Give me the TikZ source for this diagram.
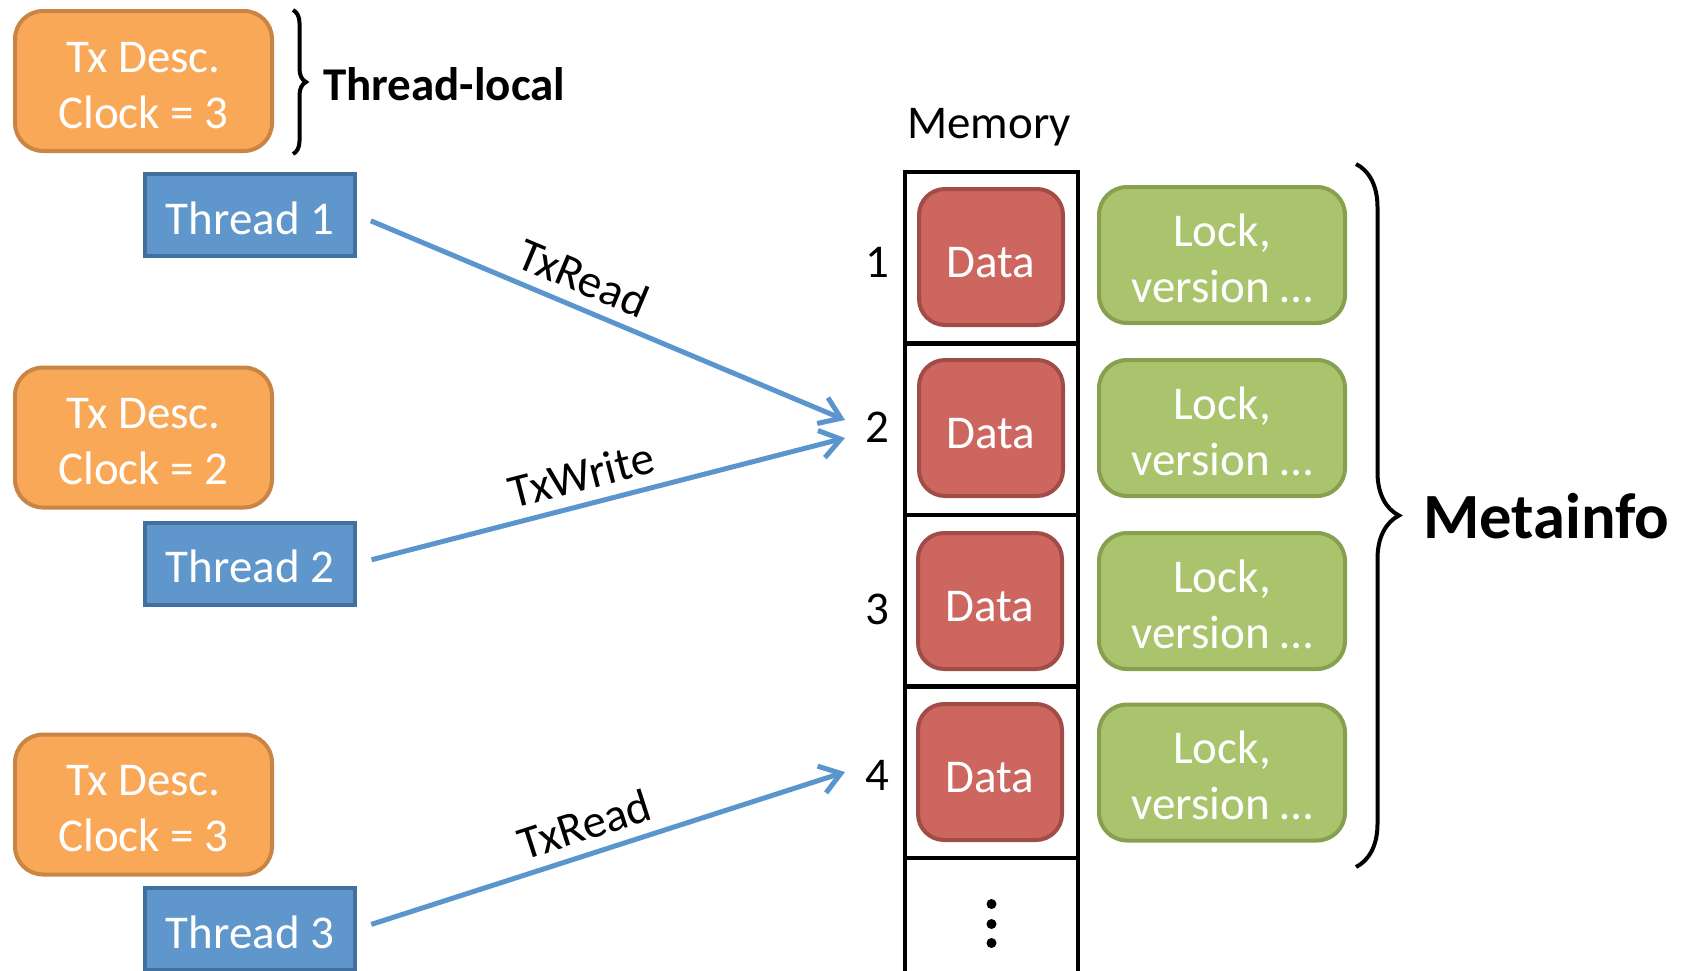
\documentclass[tikz,border=0pt]{standalone}
\usepackage{fontspec}
\setmainfont{Carlito}
\usetikzlibrary{arrows.meta,decorations.pathreplacing}

\definecolor{descfill}{HTML}{F9A857}
\definecolor{descline}{HTML}{C98545}
\definecolor{thrfill}{HTML}{5F96CB}
\definecolor{thrline}{HTML}{41709E}
\definecolor{datafill}{HTML}{CD665F}
\definecolor{dataline}{HTML}{A24C47}
\definecolor{metafill}{HTML}{A9C46C}
\definecolor{metaline}{HTML}{87A050}
\definecolor{arrowblue}{HTML}{5A95CE}

% strut raising the first line's height by #2 above the height of glyph #1
\newcommand{\firstlinepad}[2]{\rule{0pt}{\dimexpr\fontcharht\font`#1+#2\relax}}

\begin{document}
\begin{tikzpicture}[x=1pt,y=-1pt,
  txt/.style={font=\fontsize{47}{56}\selectfont, inner sep=0pt},
  desc/.style={txt, draw=descline, fill=descfill, line width=4pt, rounded corners=28pt,
    minimum width=257pt, minimum height=140pt, text=white, align=center},
  thread/.style={txt, draw=thrline, fill=thrfill, line width=4pt,
    minimum width=210pt, minimum height=82pt, text=white,
    execute at begin node={\firstlinepad{d}{6.5pt}}},
  cell/.style={draw=black, line width=4pt, minimum width=173pt, minimum height=171pt},
  datab/.style={txt, draw=dataline, fill=datafill, line width=4pt, rounded corners=26pt,
    minimum width=144pt, minimum height=136pt, text=white,
    execute at begin node={\firstlinepad{D}{10.7pt}}},
  metab/.style={txt, draw=metaline, fill=metafill, line width=4pt, rounded corners=28pt,
    minimum width=246pt, minimum height=136pt, text=white, align=center},
  idx/.style={txt},
  access/.style={draw=arrowblue, line width=5pt, -{Straight Barb[length=20pt,width=28pt]}},
  oplabel/.style={txt, sloped, above=11pt},
  bracket/.style={draw=black, line width=4pt, decorate}
]
\useasboundingbox (0,0) rectangle (1681,970);
\clip (0,0) rectangle (1681,970);

% transaction descriptors and threads
\node[desc] (d1) at (143.5,81) {\firstlinepad{D}{8.6pt}Tx Desc.\\Clock = 3};
\node[desc] (d2) at (143.5,437.5) {\firstlinepad{D}{8.6pt}Tx Desc.\\Clock = 2};
\node[desc] (d3) at (143.5,804.5) {\firstlinepad{D}{8.6pt}Tx Desc.\\Clock = 3};
\node[thread] (t1) at (250,215) {Thread 1};
\node[thread] (t2) at (250,563.5) {Thread 2};
\node[thread] (t3) at (250,929) {Thread 3};

% thread-local brace
\coordinate (tlA) at (293,10);
\coordinate (tlB) at (293,154);
\draw[bracket, decoration={brace, amplitude=13pt}] (tlA) -- (tlB);
\node[txt, font=\fontsize{47}{56}\selectfont\bfseries, anchor=west] (tl) at (323,84) {Thread-local};

% memory column
\node[txt] (mem) at (989,127) {Memory};
\node[cell] (c1) at (991.5,257.5) {};
\node[cell] (c2) at (991.5,429) {};
\node[cell] (c3) at (991.5,600.5) {};
\node[cell] (c4) at (991.5,772) {};
\node[cell] (c5) at (991.5,943.5) {};
\foreach \yy in {904,924,943} \fill (991.5,\yy) circle (5pt);

\node[datab] (x1) at (991,257) {Data};
\node[datab] (x2) at (991,428) {Data};
\node[datab] (x3) at (990,601) {Data};
\node[datab] (x4) at (990,772) {Data};

\node[idx] (n1) at (877,262) {1};
\node[idx] (n2) at (877,427) {2};
\node[idx] (n3) at (877,609) {3};
\node[idx] (n4) at (877,775) {4};

% per-word metadata
\node[metab] (m1) at (1222,255) {\firstlinepad{k}{6.4pt}Lock,\\version …};
\node[metab] (m2) at (1222,428) {\firstlinepad{k}{6.4pt}Lock,\\version …};
\node[metab] (m3) at (1222,601) {\firstlinepad{k}{6.4pt}Lock,\\version …};
\node[metab] (m4) at (1222,772.5) {\firstlinepad{k}{6.4pt}Lock,\\version …};

\coordinate (miA) at (1356,164);
\coordinate (miB) at (1356,867);
\draw[bracket, decoration={brace, amplitude=43pt}] (miA) -- (miB);
\node[txt, font=\fontsize{64.5}{72}\selectfont\bfseries, anchor=west] (mi) at (1423,516) {Metainfo};

% transactional accesses
\coordinate (r1) at (845,420);
\coordinate (w2) at (845,438);
\coordinate (r4) at (845,772);
\draw[access, shorten <=15pt] (t1.east) -- (r1) node[oplabel, pos=0.44] {TxRead};
\draw[access, shorten <=15pt] (t2.east) -- (w2) node[oplabel, pos=0.475] {TxWrite};
\draw[access, shorten <=15pt] (t3.east) -- (r4) node[oplabel, pos=0.485] {TxRead};
\end{tikzpicture}
\end{document}
